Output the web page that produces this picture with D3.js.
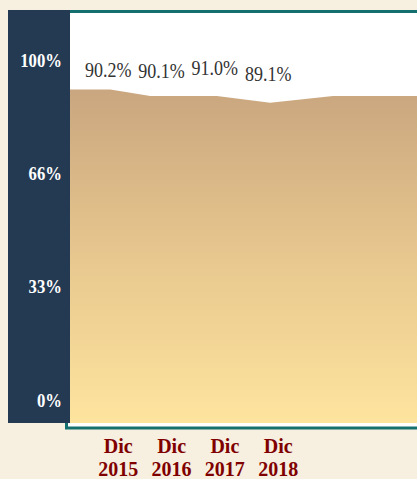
<!DOCTYPE html>
<html>
<head>
<meta charset="utf-8">
<script src="https://cdn.jsdelivr.net/npm/d3@7"></script>
<style>
  html, body { margin: 0; padding: 0; background: #f7efdf; }
  svg { display: block; }
</style>
</head>
<body>
<div id="chart"></div>
<script>
// ---- data ----
const categories = ["Dic 2015", "Dic 2016", "Dic 2017", "Dic 2018"];
const categoryYears = [2015, 2016, 2017, 2018];
const labelValues = [90.2, 90.1, 91.0, 89.1];
const areaYears = [2014, 2014.85, 2015.6, 2016.85, 2017.85, 2019.03, 2021];
const areaValues = [91.3, 91.3, 89.4, 89.4, 87.4, 89.4, 89.4];
const tickValues = [0, 100 / 3, 200 / 3, 100];
const tickLabels = ["0%", "33%", "66%", "100%"];

// ---- layout ----
const W = 417, H = 479;
const serif = "Liberation Serif, Times New Roman, serif";
const svg = d3.select("#chart").append("svg").attr("width", W).attr("height", H);

svg.append("rect").attr("width", W).attr("height", H).attr("fill", "#f7efdf");

const x = d3.scaleLinear().domain([2014, 2021]).range([65, 438]);
const y = d3.scaleLinear().domain([0, 100]).range([400, 60]);
const plotBottom = 423;

// gradient
const defs = svg.append("defs");
const grad = defs.append("linearGradient").attr("id", "g")
  .attr("gradientUnits", "userSpaceOnUse")
  .attr("x1", 0).attr("y1", 88).attr("x2", 0).attr("y2", plotBottom);
grad.append("stop").attr("offset", "0%").attr("stop-color", "#c9a67f");
grad.append("stop").attr("offset", "50%").attr("stop-color", "#e7c78e");
grad.append("stop").attr("offset", "100%").attr("stop-color", "#fde49e");

// plot frame
svg.append("rect")
  .attr("x", 66.5).attr("y", 11.5).attr("width", 400).attr("height", 416.5)
  .attr("fill", "#ffffff").attr("stroke", "#14706f").attr("stroke-width", 3);

// area
const pts = areaYears.map((t, i) => [t, areaValues[i]]);
const area = d3.area()
  .x(d => x(d[0]))
  .y0(plotBottom)
  .y1(d => y(d[1]));
svg.append("path").datum(pts).attr("d", area).attr("fill", "url(#g)");

// navy axis panel
svg.append("rect").attr("x", 8).attr("y", 10).attr("width", 62).attr("height", 413)
  .attr("fill", "#243a52");

// y tick labels
svg.append("g").selectAll("text").data(tickValues).join("text")
  .attr("transform", d => `translate(62,${y(d)}) scale(0.88,1)`)
  .attr("dy", "0.35em")
  .attr("text-anchor", "end")
  .attr("font-family", serif)
  .attr("font-weight", "bold")
  .attr("font-size", 19)
  .attr("fill", "#ffffff")
  .text((d, i) => tickLabels[i]);

// value labels
svg.append("g").selectAll("text").data(labelValues).join("text")
  .attr("transform", (d, i) => `translate(${x(categoryYears[i]) - 10},${y(d) - 16}) scale(0.9,1)`)
  .attr("text-anchor", "middle")
  .attr("font-family", serif)
  .attr("font-size", 20)
  .attr("fill", "#333333")
  .text(d => d.toFixed(1) + "%");

// x category labels
const xl = svg.append("g").selectAll("text").data(categories).join("text")
  .attr("x", (d, i) => x(categoryYears[i]))
  .attr("text-anchor", "middle")
  .attr("font-family", serif)
  .attr("font-weight", "bold")
  .attr("font-size", 20)
  .attr("fill", "#800000");
xl.each(function(d) {
  const parts = d.split(" ");
  const t = d3.select(this);
  t.append("tspan").attr("x", t.attr("x")).attr("y", 453).text(parts[0]);
  t.append("tspan").attr("x", t.attr("x")).attr("y", 476).text(parts[1]);
});
</script>
</body>
</html>
